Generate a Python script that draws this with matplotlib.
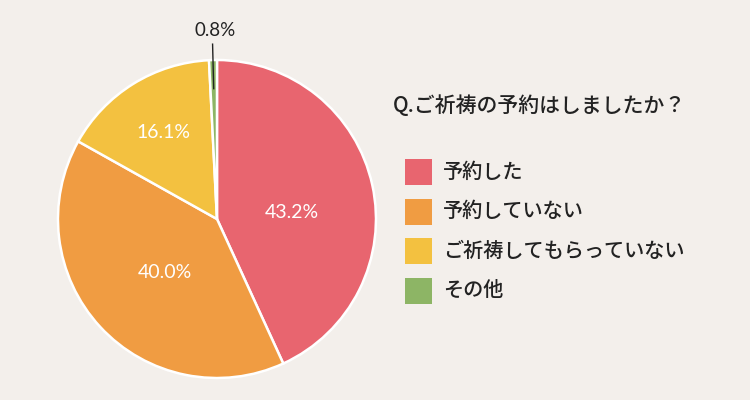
import numpy as np
import matplotlib
matplotlib.use("Agg")
import matplotlib.pyplot as plt
from matplotlib.patches import Rectangle

plt.rcParams['font.family'] = ['Noto Sans CJK JP', 'DejaVu Sans']

title = "Q.ご祈祷の予約はしましたか？"
categories = ["予約した", "予約していない", "ご祈祷してもらっていない", "その他"]
values = [43.2, 40.0, 16.1, 0.8]
pct_labels = ["43.2%", "40.0%", "16.1%", "0.8%"]
colors = ["#e8656f", "#f09c42", "#f3c140", "#8db565"]
bg = "#f3efeb"

fig = plt.figure(figsize=(7.5, 4.0), dpi=100, facecolor=bg)
ax = fig.add_axes([0.0773, 0.055, 0.424, 0.795])
ax.set_facecolor(bg)
wedges, _ = ax.pie(values, colors=colors, startangle=90, counterclock=False,
                   radius=1.0, wedgeprops=dict(edgecolor="white", linewidth=1.8))
ax.set_xlim(-1.0, 1.0)
ax.set_ylim(-1.0, 1.0)
ax.set_aspect('equal')
ax.axis('off')

# label placement: (radius fraction, angle offset in degrees)
place = [(0.47, -7.5), (0.47, 3), (0.64, 0)]
for w, lab, (rf, dth) in zip(wedges[:3], pct_labels[:3], place):
    th = np.deg2rad((w.theta1 + w.theta2) / 2 + dth)
    ax.text(rf * np.cos(th), rf * np.sin(th), lab, ha='center', va='center',
            color='white', fontsize=14, family=['Lato', 'DejaVu Sans'])

w = wedges[3]
th = np.deg2rad((w.theta1 + w.theta2) / 2)
ax.plot([0.82 * np.cos(th), 1.1 * np.cos(th)], [0.82 * np.sin(th), 1.1 * np.sin(th)],
        color='#222222', lw=1.0, clip_on=False)
ax.text(1.185 * np.cos(th) + 0.015, 1.185 * np.sin(th), pct_labels[3], ha='center', va='center',
        color='#222222', fontsize=13.5, family=['Lato', 'DejaVu Sans'])

W, H = 750, 400
fig.text(393 / W, 1 - 106 / H, title, ha='left', va='center', fontsize=15,
         fontweight='medium', color='#222222')
y0, dy = 172, 39.6
for i, (c, col) in enumerate(zip(categories, colors)):
    yc = y0 + i * dy
    fig.patches.append(Rectangle((405 / W, 1 - (yc + 13) / H), 27 / W, 26 / H,
                                 transform=fig.transFigure, facecolor=col, edgecolor='none'))
    fig.text(443 / W, 1 - yc / H, c, ha='left', va='center', fontsize=14.5,
             fontweight='medium', color='#222222')

fig.savefig("out.png", dpi=100, facecolor=bg)
